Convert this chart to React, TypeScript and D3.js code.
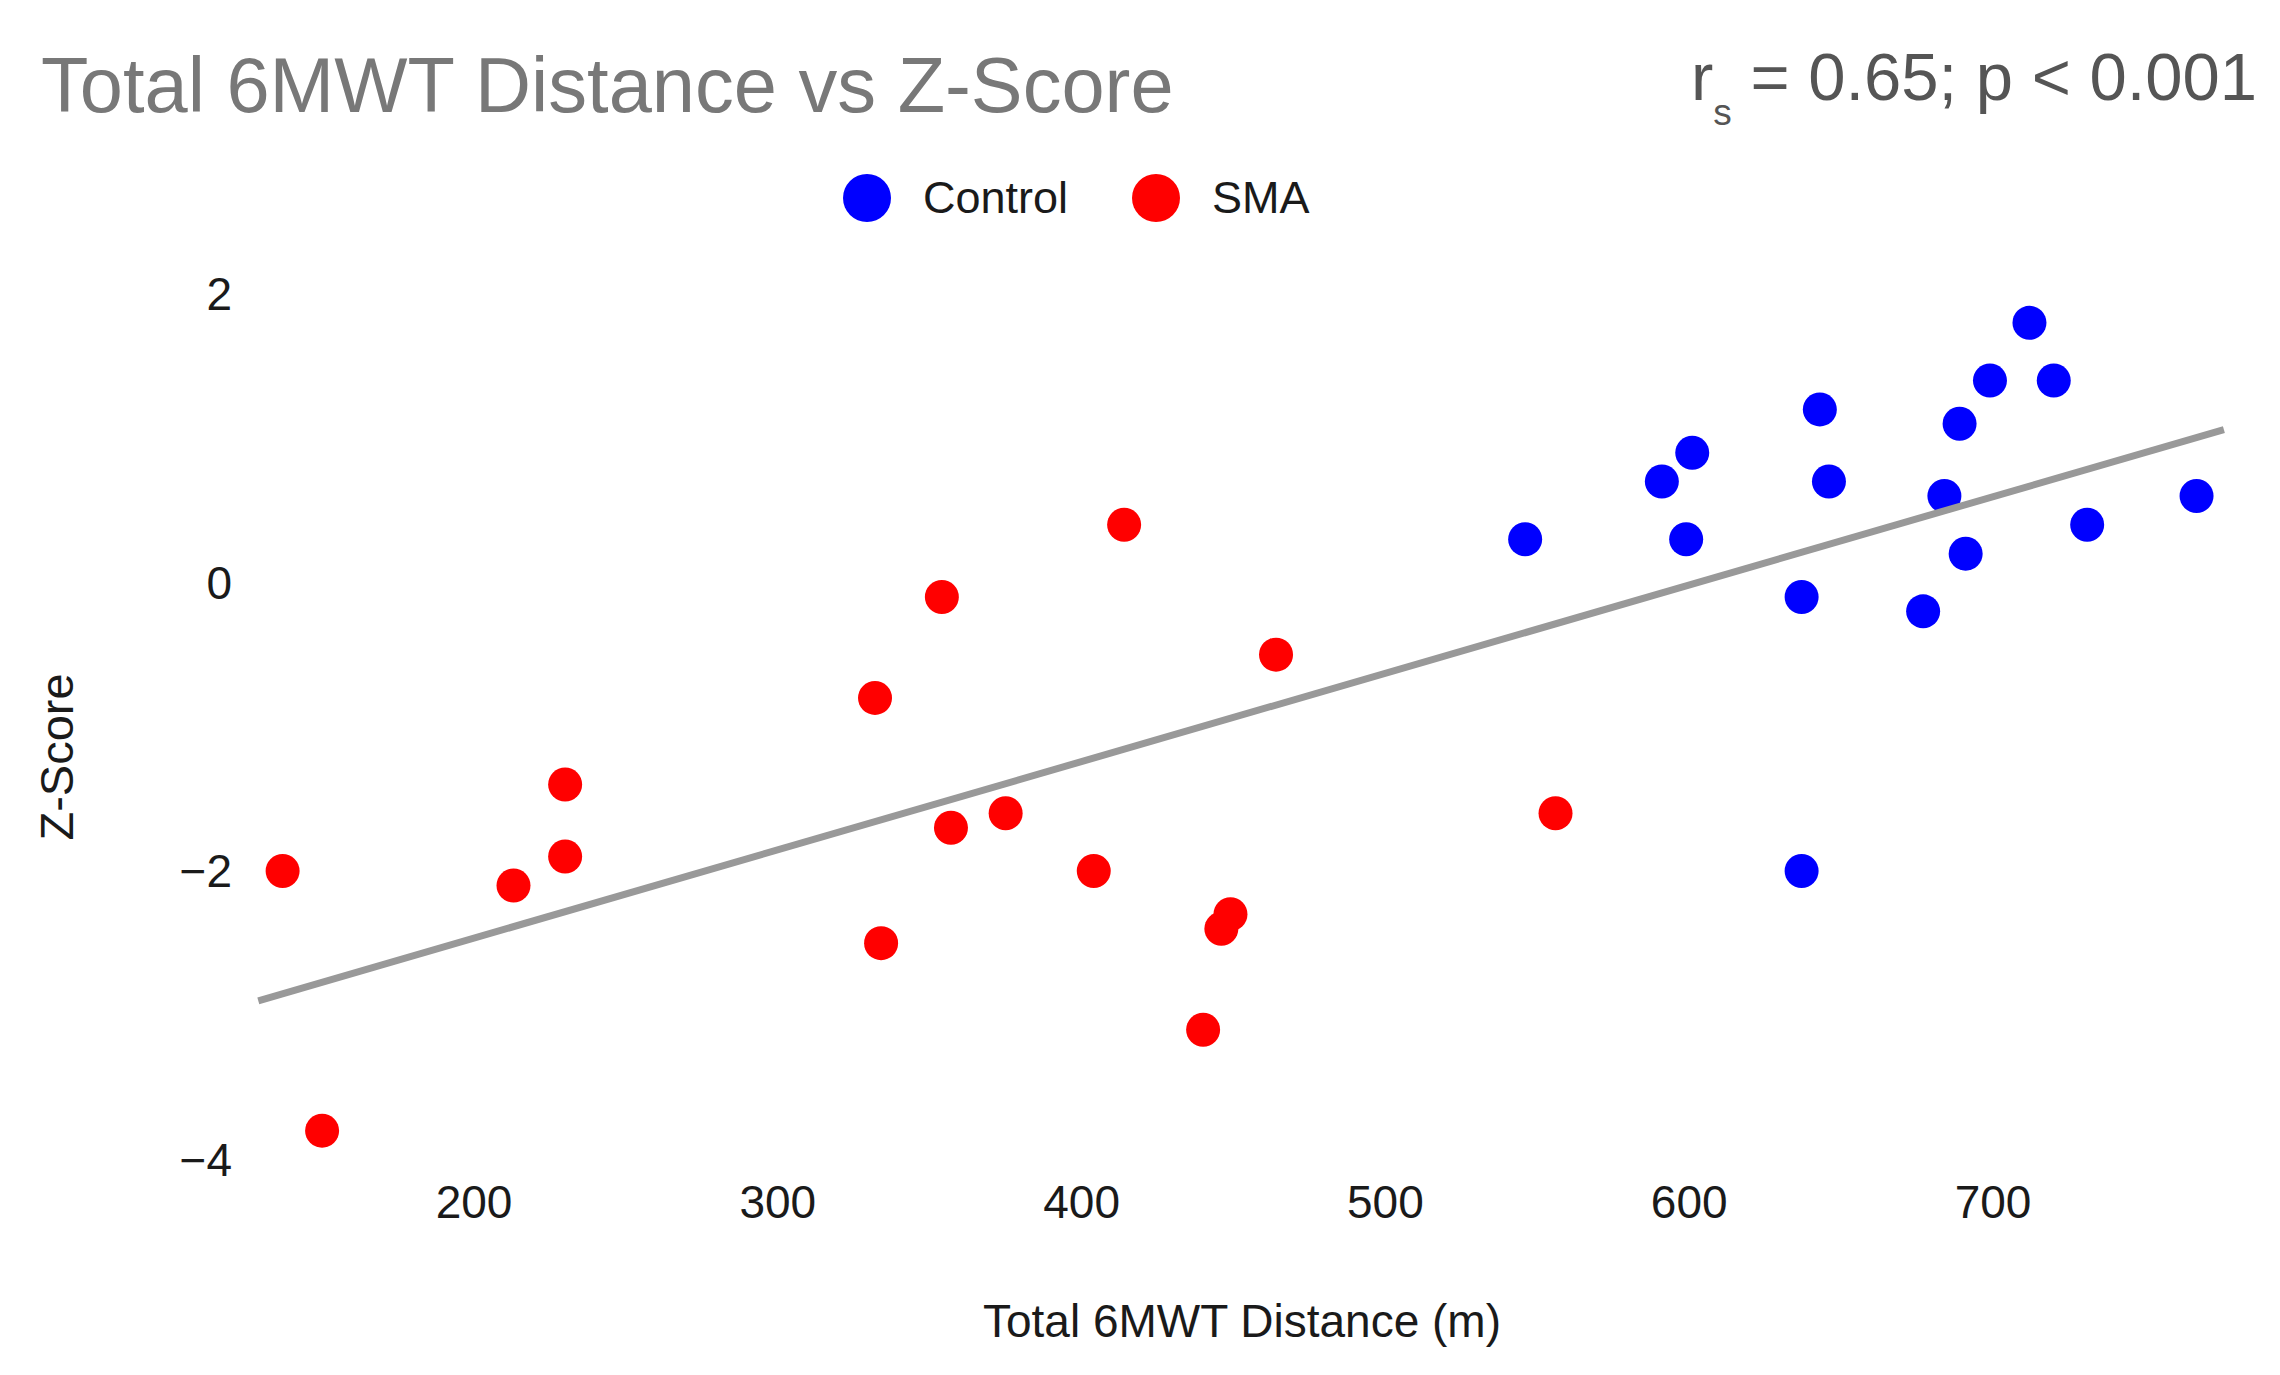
import { useEffect, useRef } from 'react';
import * as d3 from 'd3';

// Values
const smaDistance = [137, 150, 213, 230, 230, 332, 334, 354, 357, 375, 404, 414, 440, 446, 449, 464, 556];
const smaZ = [-2.0, -3.8, -2.1, -1.4, -1.9, -0.8, -2.5, -0.1, -1.7, -1.6, -2.0, 0.4, -3.1, -2.4, -2.3, -0.5, -1.6];

const controlDistance = [546, 591, 601, 599, 637, 637, 643, 646, 677, 684, 689, 691, 699, 712, 720, 731, 767];
const controlZ = [0.3, 0.7, 0.9, 0.3, -0.1, -2.0, 1.2, 0.7, -0.2, 0.6, 1.1, 0.2, 1.4, 1.8, 1.4, 0.4, 0.6];

// fitted line end points
const trendDistance = [129, 776];
const trendZ = [-2.9, 1.06];

const xTicks = [200, 300, 400, 500, 600, 700];
const yTicks = [2, 0, -2, -4];

const legendItems = ['Control', 'SMA'];
const groupColors = ['#0000ff', '#ff0000'];

const FONT = '"Liberation Sans", Arial, Helvetica, sans-serif';

export default function App() {
  const svgRef = useRef<SVGSVGElement>(null);
  const width = 2280;
  const height = 1375;

  useEffect(() => {
    if (!svgRef.current) return;
    const svg = d3.select(svgRef.current);
    svg.selectAll('*').remove();

    svg.append('rect').attr('width', width).attr('height', height).attr('fill', '#fff');

    // Scales
    const x = d3.scaleLinear().domain([200, 700]).range([474, 1993]);
    const y = d3.scaleLinear().domain([-4, 2]).range([1159.5, 294]);

    // Title + stats
    svg.append('text')
      .attr('x', 41)
      .attr('y', 112)
      .attr('font-family', FONT)
      .attr('font-size', 77.6)
      .attr('fill', '#787878')
      .text('Total 6MWT Distance vs Z-Score');

    const stat = svg.append('text')
      .attr('x', 1691)
      .attr('y', 100)
      .attr('font-family', FONT)
      .attr('font-size', 67)
      .attr('fill', '#555555');
    stat.append('tspan').text('r');
    stat.append('tspan').attr('dy', 25).attr('font-size', 37).text('s');
    stat.append('tspan').attr('dy', -25).text(' = 0.65; p < 0.001');

    // Legend
    const legendX = [867, 1156];
    legendItems.forEach((name, i) => {
      svg.append('circle')
        .attr('cx', legendX[i])
        .attr('cy', 198)
        .attr('r', 24)
        .attr('fill', groupColors[i]);
      svg.append('text')
        .attr('x', legendX[i] + 56)
        .attr('y', 213)
        .attr('font-family', FONT)
        .attr('font-size', 45)
        .attr('fill', '#1a1a1a')
        .text(name);
    });

    // Axes (labels only, no lines)
    const tickFmt = (v: number) => (v < 0 ? `\u2212${Math.abs(v)}` : `${v}`);

    svg.append('g')
      .selectAll('text')
      .data(xTicks)
      .enter()
      .append('text')
      .attr('x', d => x(d))
      .attr('y', 1218)
      .attr('text-anchor', 'middle')
      .attr('font-family', FONT)
      .attr('font-size', 46)
      .attr('fill', '#1a1a1a')
      .text(d => tickFmt(d));

    svg.append('g')
      .selectAll('text')
      .data(yTicks)
      .enter()
      .append('text')
      .attr('x', 232)
      .attr('y', d => y(d) + 16)
      .attr('text-anchor', 'end')
      .attr('font-family', FONT)
      .attr('font-size', 46)
      .attr('fill', '#1a1a1a')
      .text(d => tickFmt(d));

    svg.append('text')
      .attr('x', 1242)
      .attr('y', 1337)
      .attr('text-anchor', 'middle')
      .attr('font-family', FONT)
      .attr('font-size', 46)
      .attr('fill', '#1a1a1a')
      .text('Total 6MWT Distance (m)');

    svg.append('text')
      .attr('transform', 'translate(73,757) rotate(-90)')
      .attr('text-anchor', 'middle')
      .attr('font-family', FONT)
      .attr('font-size', 47)
      .attr('fill', '#1a1a1a')
      .text('Z-Score');

    // Points
    const groups = [
      { xs: controlDistance, ys: controlZ, color: groupColors[0] },
      { xs: smaDistance, ys: smaZ, color: groupColors[1] },
    ];
    groups.forEach(gr => {
      svg.append('g')
        .selectAll('circle')
        .data(gr.xs.map((d, i) => ({ d, z: gr.ys[i] })))
        .enter()
        .append('circle')
        .attr('cx', p => x(p.d))
        .attr('cy', p => y(p.z))
        .attr('r', 17)
        .attr('fill', gr.color);
    });

    // Trend line drawn over points
    const line = d3.line<number>()
      .x(d => x(d))
      .y((_, i) => y(trendZ[i]));
    svg.append('path')
      .attr('d', line(trendDistance))
      .attr('fill', 'none')
      .attr('stroke', '#999999')
      .attr('stroke-width', 7);
  }, []);

  return (
    <svg
      ref={svgRef}
      width={width}
      height={height}
      style={{ position: 'absolute', left: 0, top: 0, display: 'block' }}
    />
  );
}
